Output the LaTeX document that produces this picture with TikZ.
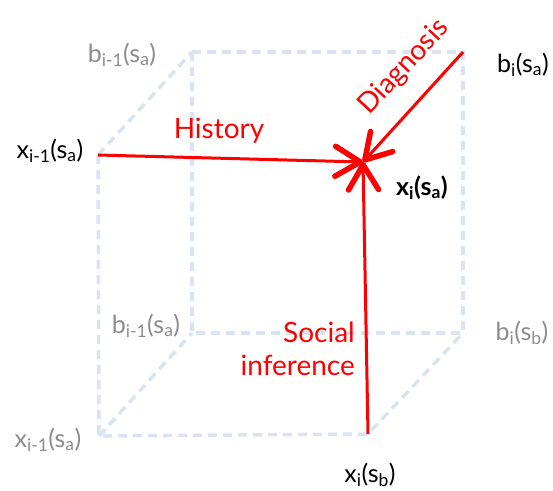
\documentclass[tikz,border=0pt]{standalone}
\usepackage{fontspec}
\setmainfont{Lato}
\usepackage{xcolor}
\usetikzlibrary{arrows.meta, positioning}
\definecolor{cubeblue}{RGB}{217,227,242}
\definecolor{lblgray}{RGB}{140,140,140}
\newcommand{\sbs}[1]{\textsubscript{#1}}

\begin{document}
\begin{tikzpicture}[x=1pt, y=-1pt,
	edge/.style={cubeblue, line width=3.5pt, dash pattern=on 9pt off 6pt},
	flow/.style={red, line width=3pt, -{Straight Barb[length=25pt, width=30pt, line width=5.5pt, round]}},
	lbl/.style={font=\fontsize{25}{28}\selectfont, inner sep=0pt, anchor=base},
	redlbl/.style={lbl, red, font=\fontsize{28}{33}\selectfont}]
			\useasboundingbox (0,0) rectangle (553,490);
			% cube corners
			\coordinate (xa0) at (98,155);
			\coordinate (ba0) at (192,52);
			\coordinate (ba1) at (463,52);
			\coordinate (xa1) at (363,162);
			\coordinate (bb0) at (192,333);
			\coordinate (bb1) at (463,333);
			\coordinate (xb0) at (99,436);
			\coordinate (xb1) at (368,434);
			% dashed edges
			\draw[edge] (ba0) -- (ba1) -- (bb1) -- (bb0) -- cycle;
			\draw[edge] (xa0) -- (ba0);
			\draw[edge] (xa0) -- (xb0) -- (xb1) -- (bb1);
			\draw[edge] (xb0) -- (bb0);
			% influences
			\draw[flow] (xa0) -- (xa1);
			\draw[flow] (ba1) -- (xa1);
			\draw[flow] (xb1) -- (xa1);
			% labels
			\node[lbl, lblgray] (lba0) at (122,62) {b\sbs{i-1}(s\sbs{a})};
			\node[lbl] (lxa0) at (50,158) {x\sbs{i-1}(s\sbs{a})};
			\node[lbl] (lba1) at (523,72) {b\sbs{i}(s\sbs{a})};
			\node[lbl, font=\fontsize{25}{28}\selectfont\bfseries] (lxa1) at (422,195) {x\sbs{i}(s\sbs{a})};
			\node[lbl, lblgray] (lbb0) at (146,333) {b\sbs{i-1}(s\sbs{a})};
			\node[lbl, lblgray] (lbb1) at (522,340) {b\sbs{i}(s\sbs{b})};
			\node[lbl, lblgray] (lxb0) at (48,447) {x\sbs{i-1}(s\sbs{a})};
			\node[lbl] (lxb1) at (370,482) {x\sbs{i}(s\sbs{b})};
			\node[redlbl] (hist) at (219,138) {History};
			\node[redlbl, anchor=center, rotate=47] (diag) at (404,67) {Diagnosis};
			\node[redlbl, anchor=base east, align=right] (soc) at (355,375) {Social\\inference};
		\end{tikzpicture}
\end{document}
